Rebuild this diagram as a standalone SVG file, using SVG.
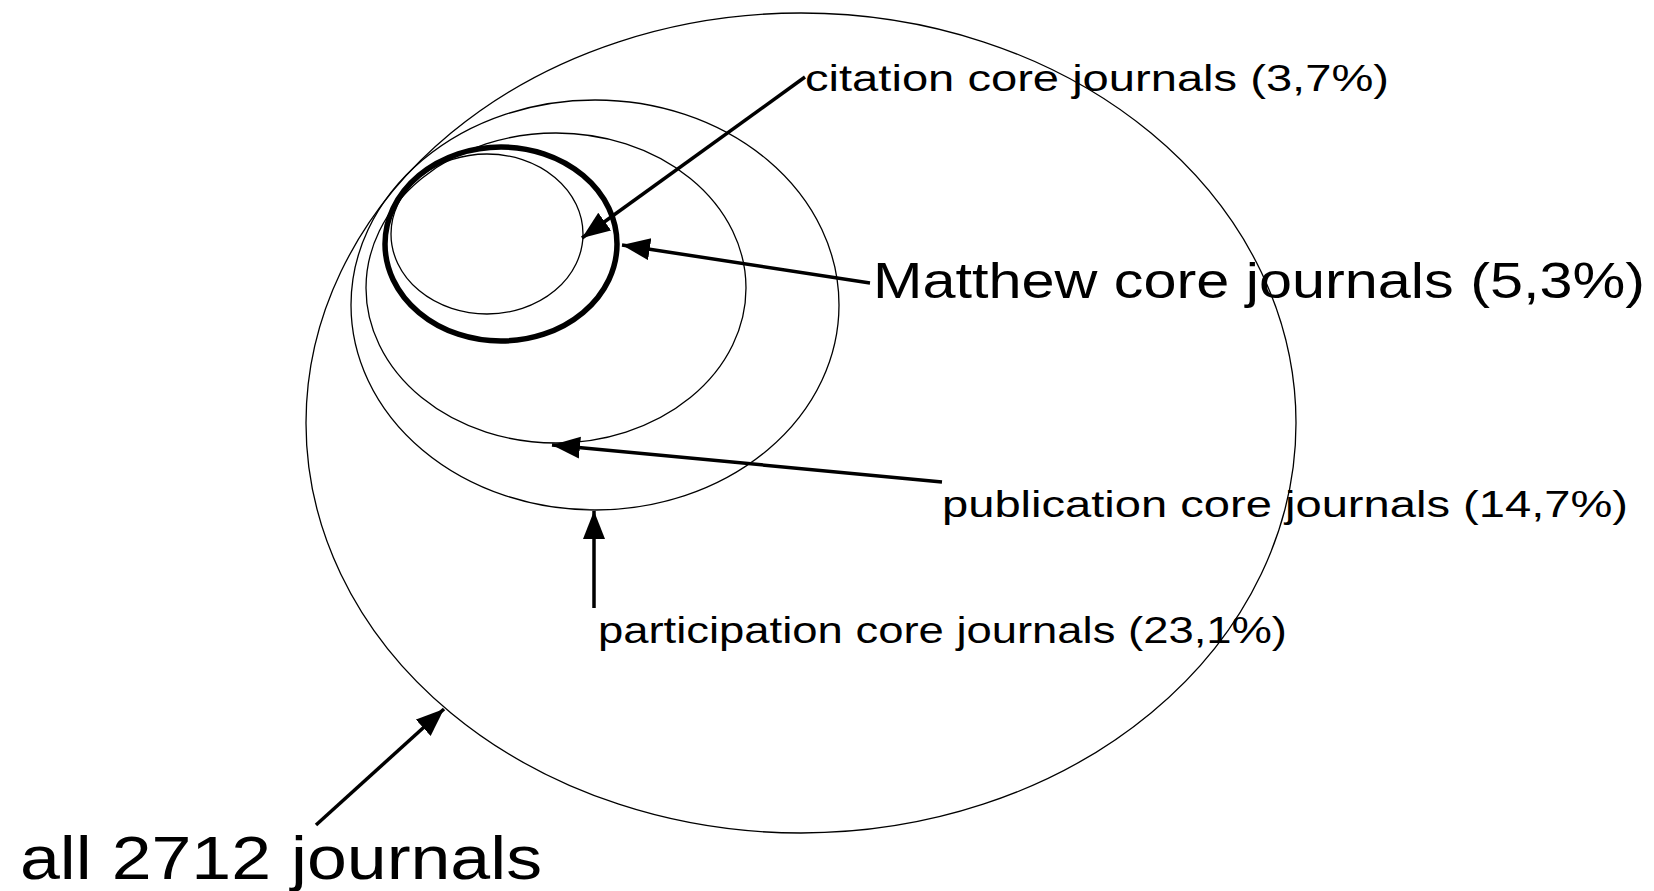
<svg xmlns="http://www.w3.org/2000/svg" width="1654" height="891" viewBox="0 0 1654 891">
<style>
.thin{fill:none;stroke:#000;stroke-width:1.3}
.thick{fill:none;stroke:#000;stroke-width:5.5}
.arr{fill:none;stroke:#000;stroke-width:3.5;marker-end:url(#ah)}
.lbl{font-family:"Liberation Sans",Arial,sans-serif;fill:#000}
</style>
<defs>
<marker id="ah" markerUnits="userSpaceOnUse" markerWidth="32" markerHeight="24" refX="28" refY="11" orient="auto">
<path d="M0,0 L28,11 L0,22 Z" fill="#000"/>
</marker>
</defs>
<rect width="1654" height="891" fill="#fff"/>
<g id="all-journals">
<ellipse class="thin" cx="801" cy="423" rx="495" ry="410"/>
</g>
<g id="participation-core">
<ellipse class="thin" cx="595" cy="305" rx="244" ry="205"/>
</g>
<g id="publication-core">
<ellipse class="thin" cx="556" cy="288" rx="190" ry="155"/>
</g>
<g id="matthew-core">
<ellipse class="thick" cx="501" cy="244" rx="116" ry="97"/>
</g>
<g id="citation-core">
<ellipse class="thin" cx="487" cy="234" rx="96" ry="80"/>
</g>
<g id="connectors">
<line class="arr" x1="805" y1="77" x2="582" y2="238"/>
<line class="arr" x1="870" y1="283" x2="622" y2="245"/>
<line class="arr" x1="942" y1="482" x2="552" y2="445"/>
<line class="arr" x1="594" y1="608" x2="594" y2="511"/>
<line class="arr" x1="316" y1="825" x2="444" y2="709"/>
</g>
<g id="labels">
<text class="lbl" x="805" y="91" font-size="36" textLength="584" lengthAdjust="spacingAndGlyphs">citation core journals (3,7%)</text>
<text class="lbl" x="873" y="298" font-size="50" textLength="772" lengthAdjust="spacingAndGlyphs">Matthew core journals (5,3%)</text>
<text class="lbl" x="942" y="517" font-size="36" textLength="686" lengthAdjust="spacingAndGlyphs">publication core journals (14,7%)</text>
<text class="lbl" x="598" y="643" font-size="36" textLength="689" lengthAdjust="spacingAndGlyphs">participation core journals (23,1%)</text>
<text class="lbl" x="20" y="879" font-size="62" textLength="522" lengthAdjust="spacingAndGlyphs">all 2712 journals</text>
</g>
</svg>
